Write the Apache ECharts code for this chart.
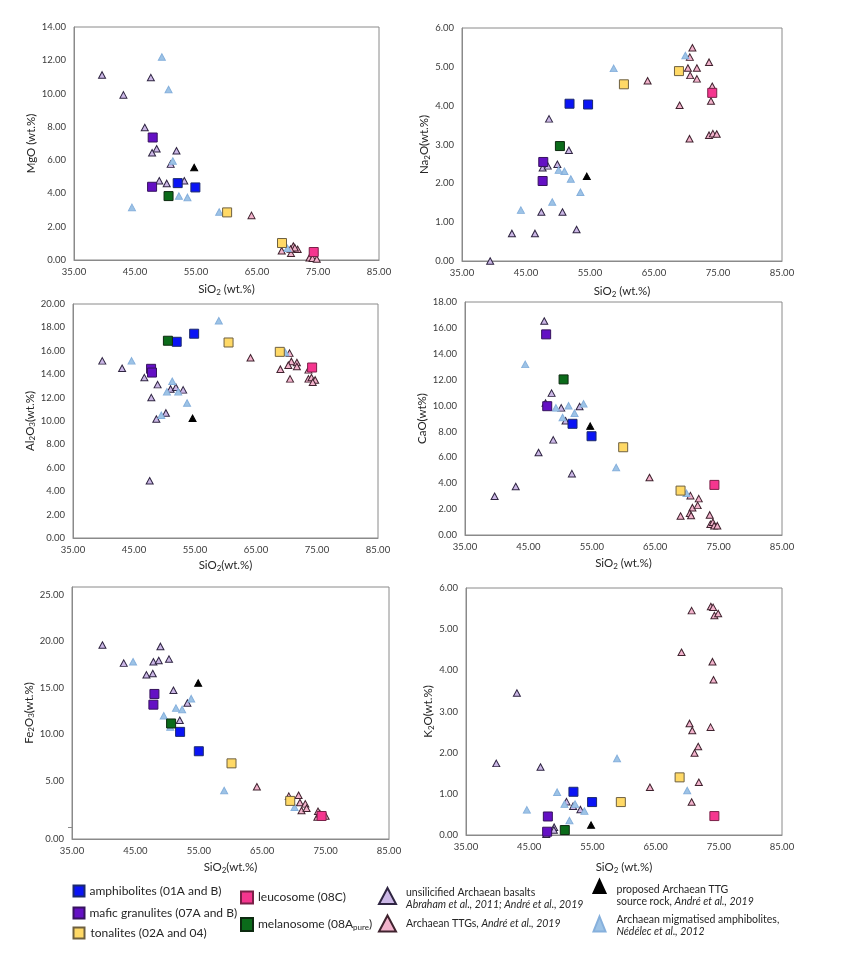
<!DOCTYPE html>
<html><head><meta charset="utf-8">
<script src="https://cdn.jsdelivr.net/npm/echarts@6/dist/echarts.min.js"></script>
<style>html,body{margin:0;padding:0;background:#fff}#c{width:851px;height:955px}</style>
</head><body><div id="c"></div>
<script>
// ---------- tick labels ----------
const SIO2_TICKS = [35, 45, 55, 65, 75, 85];
const MGO_TICKS = [0, 2, 4, 6, 8, 10, 12, 14];
const NA2O_TICKS = [0, 1, 2, 3, 4, 5, 6];
const AL2O3_TICKS = [0, 2, 4, 6, 8, 10, 12, 14, 16, 18, 20];
const CAO_TICKS = [0, 2, 4, 6, 8, 10, 12, 14, 16, 18];
const FE2O3_TICKS = [0, 5, 10, 15, 20, 25];
const K2O_TICKS = [0, 1, 2, 3, 4, 5, 6];

// ---------- MgO vs SiO2 ----------
const mgoAmph = [[52.0, 4.62], [54.9, 4.36]];
const mgoMaf = [[47.9, 7.36], [47.8, 4.40]];
const mgoTon = [[60.1, 2.86], [69.1, 1.02]];
const mgoLeu = [[74.3, 0.48]];
const mgoMel = [[50.5, 3.84]];
const mgoBas = [[39.6, 11.12], [43.1, 9.92], [47.6, 10.96], [46.6, 7.96], [48.55, 6.68], [47.8, 6.44], [51.8, 6.56], [50.85, 5.76], [48.98, 4.76], [50.2, 4.6], [53.08, 4.76]];
const mgoTtg = [[64.1, 2.68], [69.05, 0.56], [70.95, 0.84], [70.57, 0.4], [71.67, 0.64], [71.2, 0.74], [70.5, 0.66], [73.6, 0.14], [74.1, 0.1], [74.8, 0.06]];
const mgoSrc = [[54.7, 5.56]];
const mgoMig = [[49.4, 12.2], [50.5, 10.24], [44.5, 3.16], [51.2, 5.95], [52.2, 3.84], [53.6, 3.76], [58.8, 2.88], [70.0, 0.7]];

// ---------- Na2O vs SiO2 ----------
const naAmph = [[51.8, 4.05], [54.7, 4.03]];
const naMaf = [[47.7, 2.55], [47.6, 2.06]];
const naTon = [[60.3, 4.55], [68.9, 4.89]];
const naLeu = [[74.1, 4.33]];
const naMel = [[50.3, 2.96]];
const naBas = [[39.4, 0.0], [42.8, 0.71], [46.4, 0.71], [47.4, 1.26], [50.7, 1.26], [52.9, 0.81], [49.9, 2.49], [47.6, 2.4], [48.4, 2.45], [51.7, 2.85], [48.6, 3.66]];
const naTtg = [[64.0, 4.64], [70.6, 5.25], [71.0, 5.49], [70.3, 4.97], [71.7, 4.97], [70.65, 4.78], [71.7, 4.69], [73.6, 5.12], [69.0, 4.01], [74.1, 4.5], [73.9, 4.12], [70.55, 3.15], [73.6, 3.24], [74.2, 3.28], [74.8, 3.27]];
const naSrc = [[54.5, 2.18]];
const naMig = [[44.2, 1.31], [49.1, 1.52], [53.5, 1.77], [52.0, 2.11], [51.0, 2.31], [50.1, 2.34], [58.7, 4.96], [69.9, 5.29]];

// ---------- Al2O3 vs SiO2 ----------
const alAmph = [[52.0, 16.77], [54.86, 17.46]];
const alMaf = [[47.8, 14.46], [47.95, 14.14]];
const alTon = [[60.5, 16.71], [68.9, 15.91]];
const alLeu = [[74.2, 14.57]];
const alMel = [[50.56, 16.86]];
const alBas = [[39.8, 15.14], [43.05, 14.51], [46.7, 13.71], [47.84, 12.0], [47.57, 4.89], [48.87, 13.11], [48.66, 10.17], [50.23, 10.69], [51.0, 12.74], [51.87, 12.89], [53.06, 12.66]];
const alTtg = [[64.1, 15.4], [69.0, 14.43], [70.5, 15.8], [70.8, 15.09], [70.3, 14.77], [71.7, 15.0], [71.7, 14.66], [70.58, 13.6], [73.6, 14.37], [73.6, 13.6], [74.1, 13.71], [74.7, 13.51], [74.3, 13.31]];
const alSrc = [[54.6, 10.23]];
const alMig = [[44.6, 15.14], [49.47, 10.49], [50.4, 12.49], [51.27, 13.4], [52.25, 12.49], [53.7, 11.54], [58.9, 18.57], [69.8, 15.86]];

// ---------- CaO vs SiO2 ----------
const caAmph = [[51.96, 8.59], [54.96, 7.63]];
const caMaf = [[47.8, 15.5], [47.97, 9.95]];
const caTon = [[59.95, 6.78], [69.0, 3.43]];
const caLeu = [[74.34, 3.87]];
const caMel = [[50.55, 12.02]];
const caBas = [[39.67, 2.99], [43.0, 3.74], [46.6, 6.37], [47.5, 16.53], [48.66, 10.96], [48.92, 7.35], [50.18, 9.82], [50.86, 8.82], [53.07, 9.93], [51.86, 4.74], [47.7, 10.2]];
const caTtg = [[64.1, 4.44], [69.0, 1.47], [70.56, 3.04], [71.87, 2.81], [70.87, 2.11], [71.7, 2.29], [70.45, 1.68], [70.66, 1.5], [73.6, 1.55], [73.7, 0.83], [74.1, 0.98], [74.3, 0.72], [74.8, 0.72]];
const caSrc = [[54.75, 8.41]];
const caMig = [[44.5, 13.18], [49.34, 9.82], [51.33, 9.98], [50.39, 9.08], [52.28, 9.41], [53.7, 10.13], [58.84, 5.21], [69.93, 3.22]];

// ---------- Fe2O3 vs SiO2 ----------
const feAmph = [[52.05, 10.25], [55.0, 8.17]];
const feMaf = [[48.0, 14.32], [47.84, 13.17]];
const feTon = [[60.16, 6.87], [69.42, 2.84]];
const feLeu = [[74.37, 1.22]];
const feMel = [[50.63, 11.15]];
const feBas = [[39.8, 19.57], [43.16, 17.63], [46.74, 16.37], [47.74, 16.51], [47.84, 17.77], [48.68, 17.91], [48.95, 19.42], [50.3, 18.06], [51.0, 14.71], [53.2, 13.35], [52.0, 11.5]];
const feTtg = [[64.16, 4.35], [69.2, 3.35], [70.74, 3.45], [70.95, 2.66], [71.2, 1.8], [71.8, 2.52], [72.0, 2.05], [73.8, 1.73], [73.7, 1.12], [75.0, 1.22], [74.1, 1.47]];
const feSrc = [[54.9, 15.5]];
const feMig = [[44.63, 17.77], [53.8, 13.81], [51.4, 12.8], [52.37, 12.66], [49.47, 11.98], [50.5, 10.76], [59.0, 3.96], [70.1, 2.16]];

// ---------- K2O vs SiO2 ----------
const kAmph = [[52.0, 1.05], [54.95, 0.8]];
const kMaf = [[47.95, 0.45], [47.84, 0.08]];
const kTon = [[59.5, 0.8], [68.8, 1.4]];
const kLeu = [[74.3, 0.46]];
const kMel = [[50.63, 0.12]];
const kBas = [[39.79, 1.74], [43.05, 3.45], [46.79, 1.65], [47.7, 0.02], [48.95, 0.19], [48.9, 0.12], [50.9, 0.81], [51.95, 0.7], [53.1, 0.62]];
const kTtg = [[64.1, 1.16], [70.7, 0.8], [69.1, 4.44], [70.7, 5.45], [73.74, 5.55], [74.1, 5.53], [74.3, 5.33], [74.9, 5.38], [74.0, 4.21], [74.16, 3.77], [70.37, 2.71], [70.8, 2.54], [73.7, 2.62], [71.74, 2.15], [71.16, 1.99], [71.84, 1.28]];
const kSrc = [[54.79, 0.24]];
const kMig = [[44.63, 0.61], [49.42, 1.04], [50.58, 0.75], [52.26, 0.75], [53.74, 0.58], [51.37, 0.35], [58.9, 1.86], [70.0, 1.08]];

// ---------- series names ----------
const NAMES = {
  amph: 'amphibolites (01A and B)',
  maf: 'mafic granulites (07A and B)',
  ton: 'tonalites (02A and 04)',
  leu: 'leucosome (08C)',
  mel: 'melanosome (08Apure)',
  bas: 'unsilicified Archaean basalts',
  ttg: 'Archaean TTGs',
  src: 'proposed Archaean TTG source rock',
  mig: 'Archaean migmatised amphibolites'
};
const LEGEND_TEXT = {
  amph: '{t|amphibolites (01A and B)}',
  maf: '{t|mafic granulites (07A and B)}',
  ton: '{t|tonalites (02A and 04)}',
  leu: '{t|leucosome (08C)}',
  mel: '{t|melanosome (08A}{s|pure}{t|)}',
  bas: '{a|unsilicified Archaean basalts}\n{i|Abraham et al., 2011; André et al., 2019}',
  ttg: '{a|Archaean TTGs, }{i|André et al., 2019}',
  src: '{a|proposed Archaean TTG}\n{a|source rock, }{i|André et al., 2019}',
  mig: '{a|Archaean migmatised amphibolites,}\n{i|Nédélec et al., 2012}'
};

// ---------- styles ----------
const TRI = [7, 6.5], SQ = 9;
const STY = {
  bas: {symbol: 'triangle', size: TRI, color: '#cbb7e6', border: '#2f2542'},
  ttg: {symbol: 'triangle', size: TRI, color: '#f3b3cc', border: '#40232f'},
  mig: {symbol: 'triangle', size: TRI, color: '#9dc3e6', border: '#86b0dc'},
  src: {symbol: 'triangle', size: TRI, color: '#000000', border: '#000000'},
  amph: {symbol: 'rect', size: SQ, color: '#0a14f5', border: '#1c2a6e'},
  maf: {symbol: 'rect', size: SQ, color: '#6410c4', border: '#36135e'},
  ton: {symbol: 'rect', size: SQ, color: '#ffd966', border: '#6e6040'},
  leu: {symbol: 'rect', size: SQ, color: '#f5368f', border: '#7a2148'},
  mel: {symbol: 'rect', size: SQ, color: '#0b6b1a', border: '#0d2a10'}
};
const ORDER = ['bas', 'ttg', 'mig', 'src', 'amph', 'maf', 'ton', 'leu', 'mel'];

const FONT = 'Lato, "Open Sans", sans-serif';
const AX = '#8a8a8a';
const TXT = '#262626';
const FE_FLOOR = -1.25, FE_CEIL = 25.8;

const panels = [
  {grid: {left: 74, top: 27, width: 305, height: 233}, ticks: MGO_TICKS, name: 'MgO (wt.%)', nameGap: 35, xName: 'SiO{s|2} (wt.%)', xGap: 22,
   d: {amph: mgoAmph, maf: mgoMaf, ton: mgoTon, leu: mgoLeu, mel: mgoMel, bas: mgoBas, ttg: mgoTtg, src: mgoSrc, mig: mgoMig}},
  {grid: {left: 462, top: 28, width: 320, height: 233}, ticks: NA2O_TICKS, name: 'Na{s|2}O(wt.%)', nameGap: 27, xName: 'SiO{s|2} (wt.%)', xGap: 23,
   d: {amph: naAmph, maf: naMaf, ton: naTon, leu: naLeu, mel: naMel, bas: naBas, ttg: naTtg, src: naSrc, mig: naMig}},
  {grid: {left: 73, top: 304, width: 305, height: 234}, ticks: AL2O3_TICKS, name: 'Al{s|2}O{s|3}(wt.%)', nameGap: 34, xName: 'SiO{s|2}(wt.%)', xGap: 20,
   d: {amph: alAmph, maf: alMaf, ton: alTon, leu: alLeu, mel: alMel, bas: alBas, ttg: alTtg, src: alSrc, mig: alMig}},
  {grid: {left: 465, top: 302, width: 317, height: 233}, ticks: CAO_TICKS, name: 'CaO(wt%)', nameGap: 31, xName: 'SiO{s|2} (wt.%)', xGap: 21,
   d: {amph: caAmph, maf: caMaf, ton: caTon, leu: caLeu, mel: caMel, bas: caBas, ttg: caTtg, src: caSrc, mig: caMig}},
  {grid: {left: 72, top: 587, width: 317, height: 252}, ticks: FE2O3_TICKS, name: 'Fe{s|2}O{s|3}(wt.%)', nameGap: 33, xName: 'SiO{s|2}(wt.%)', xGap: 21, fe: true,
   d: {amph: feAmph, maf: feMaf, ton: feTon, leu: feLeu, mel: feMel, bas: feBas, ttg: feTtg, src: feSrc, mig: feMig}},
  {grid: {left: 466, top: 588, width: 316, height: 247}, ticks: K2O_TICKS, name: 'K{s|2}O(wt.%)', nameGap: 29, xName: 'SiO{s|2} (wt.%)', xGap: 25,
   d: {amph: kAmph, maf: kMaf, ton: kTon, leu: kLeu, mel: kMel, bas: kBas, ttg: kTtg, src: kSrc, mig: kMig}}
];

const nameStyle = {
  fontFamily: FONT, fontSize: 11.5, color: TXT, lineHeight: 14,
  rich: {s: {fontFamily: FONT, fontSize: 8, color: TXT, lineHeight: 8, verticalAlign: 'bottom'}}
};
const labelStyle = {fontFamily: FONT, fontSize: 9.5, color: '#3a3a3a'};

const grid = [], xAxis = [], yAxis = [], series = [];
panels.forEach((p, i) => {
  grid.push(Object.assign({show: true, borderColor: AX, borderWidth: 1, backgroundColor: '#fff', containLabel: false, outerBoundsMode: 'none'}, p.grid));
  xAxis.push({
    type: 'value', gridIndex: i, min: SIO2_TICKS[0], max: SIO2_TICKS[SIO2_TICKS.length - 1],
    axisLine: {show: true, onZero: false, lineStyle: {color: AX, width: 1}}, axisTick: {show: false}, splitLine: {show: false},
    axisLabel: Object.assign({customValues: SIO2_TICKS, margin: 7, formatter: v => v.toFixed(2)}, labelStyle),
    name: p.xName, nameLocation: 'middle', nameGap: p.xGap, nameTextStyle: nameStyle
  });
  const yMin = p.fe ? FE_FLOOR : p.ticks[0];
  const yMax = p.fe ? FE_CEIL : p.ticks[p.ticks.length - 1];
  const labVals = p.fe ? p.ticks.map(v => v === 0 ? FE_FLOOR : v) : p.ticks;
  yAxis.push({
    type: 'value', gridIndex: i, min: yMin, max: yMax,
    axisLine: {show: true, onZero: false, lineStyle: {color: AX, width: 1}},
    axisTick: p.fe ? {show: true, customValues: [0], length: 4, inside: false, lineStyle: {color: AX}} : {show: false},
    splitLine: {show: false},
    axisLabel: Object.assign({customValues: labVals, margin: 8, formatter: v => (v < 0 ? 0 : v).toFixed(2)}, labelStyle),
    name: p.name, nameLocation: 'middle', nameGap: p.nameGap, nameRotate: 90, nameTextStyle: nameStyle
  });
  ORDER.forEach(k => {
    const s = STY[k];
    series.push({
      type: 'scatter', name: NAMES[k], xAxisIndex: i, yAxisIndex: i, data: p.d[k],
      symbol: s.symbol, symbolSize: s.size,
      itemStyle: {color: s.color, borderColor: s.border, borderWidth: 1, opacity: 1},
      emphasis: {disabled: true}, silent: true
    });
  });
});

// ---------- legend ----------
const leftRich = {
  t: {fontFamily: FONT, fontSize: 12, color: TXT, lineHeight: 14},
  s: {fontFamily: FONT, fontSize: 8, color: TXT, lineHeight: 8, verticalAlign: 'bottom'}
};
const rightRich = {
  a: {fontFamily: FONT, fontSize: 10.5, color: TXT, lineHeight: 12},
  i: {fontFamily: FONT, fontSize: 10.5, color: TXT, lineHeight: 12, fontStyle: 'italic'}
};
const LEG = [
  {k: 'amph', left: 72.5, top: 884.5, w: 11, h: 11, rich: leftRich, pad: [0, 0, 0, 0]},
  {k: 'maf', left: 72.5, top: 906.5, w: 11, h: 11, rich: leftRich, pad: [0, 0, 0, 0]},
  {k: 'ton', left: 72.5, top: 926.5, w: 11, h: 11, rich: leftRich, pad: [0, 0, 0, 1]},
  {k: 'leu', left: 240, top: 890.5, w: 12, h: 12, rich: leftRich, pad: [0, 0, 0, 0]},
  {k: 'mel', left: 240, top: 917, w: 12, h: 13, rich: leftRich, pad: [0, 0, 0, 0]},
  {k: 'bas', left: 378, top: 887, w: 17, h: 16, rich: rightRich, pad: [6, 0, 0, 5]},
  {k: 'ttg', left: 378, top: 914.5, w: 17, h: 16, rich: rightRich, pad: [0, 0, 0, 5]},
  {k: 'src', left: 592.5, top: 879, w: 12, h: 13, rich: rightRich, pad: [18, 0, 0, 6]},
  {k: 'mig', left: 592.5, top: 914, w: 12, h: 15, rich: rightRich, pad: [3, 0, 0, 6]}
];
const legend = LEG.map(l => ({
  data: [NAMES[l.k]], left: l.left, top: l.top, padding: 0, orient: 'horizontal',
  itemWidth: l.w, itemHeight: l.h, icon: STY[l.k].symbol, selectedMode: false,
  formatter: () => LEGEND_TEXT[l.k],
  textStyle: {fontFamily: FONT, color: TXT, padding: l.pad, rich: l.rich}
}));

const chart = echarts.init(document.getElementById('c'), null, {renderer: 'canvas', width: 851, height: 955});
chart.setOption({animation: false, backgroundColor: '#fff', grid, xAxis, yAxis, series, legend});
</script></body></html>
